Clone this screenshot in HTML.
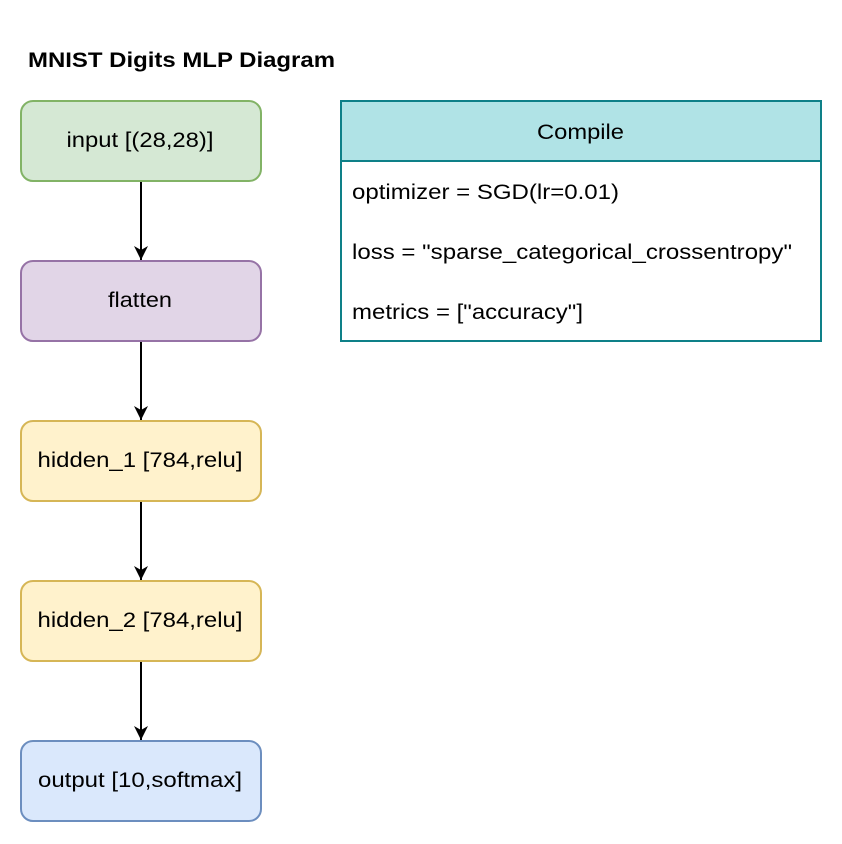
<!DOCTYPE html>
<html><head><meta charset="utf-8"><style>
html,body{margin:0;padding:0;background:#fff;}
svg{display:block;font-family:"Liberation Sans",Arial,sans-serif;}
</style></head><body>
<svg width="842" height="844" viewBox="0 0 842 844" xmlns="http://www.w3.org/2000/svg">
<defs><marker id="a" markerWidth="16" markerHeight="16" refX="14" refY="7" orient="auto" markerUnits="userSpaceOnUse">
<path d="M0,0 L14,7 L0,14 L4,7 Z" fill="#000"/></marker></defs>
<text x="28" y="67" font-size="21" font-weight="bold" textLength="307" lengthAdjust="spacingAndGlyphs">MNIST Digits MLP Diagram</text>
<g stroke-width="2" font-size="21" text-anchor="middle">
<rect x="21" y="101" width="240" height="80" rx="12" fill="#d5e8d4" stroke="#82b366"/>
<text x="140" y="147" stroke="none" textLength="147" lengthAdjust="spacingAndGlyphs">input [(28,28)]</text>
<rect x="21" y="261" width="240" height="80" rx="12" fill="#e1d5e7" stroke="#9673a6"/>
<text x="140" y="307" stroke="none" textLength="64" lengthAdjust="spacingAndGlyphs">flatten</text>
<rect x="21" y="421" width="240" height="80" rx="12" fill="#fff2cc" stroke="#d6b656"/>
<text x="140" y="467" stroke="none" textLength="205" lengthAdjust="spacingAndGlyphs">hidden_1 [784,relu]</text>
<rect x="21" y="581" width="240" height="80" rx="12" fill="#fff2cc" stroke="#d6b656"/>
<text x="140" y="627" stroke="none" textLength="205" lengthAdjust="spacingAndGlyphs">hidden_2 [784,relu]</text>
<rect x="21" y="741" width="240" height="80" rx="12" fill="#dae8fc" stroke="#6c8ebf"/>
<text x="140" y="787" stroke="none" textLength="204" lengthAdjust="spacingAndGlyphs">output [10,softmax]</text>
</g>
<g stroke="#000" stroke-width="2" marker-end="url(#a)">
<line x1="141" y1="182" x2="141" y2="260"/>
<line x1="141" y1="342" x2="141" y2="420"/>
<line x1="141" y1="502" x2="141" y2="580"/>
<line x1="141" y1="662" x2="141" y2="740"/>
</g>
<rect x="341" y="101" width="480" height="60" fill="#b0e3e6" stroke="#0e8088" stroke-width="2"/>
<rect x="341" y="161" width="480" height="180" fill="#fff" stroke="#0e8088" stroke-width="2"/>
<g font-size="21">
<text x="537" y="139" textLength="87" lengthAdjust="spacingAndGlyphs">Compile</text>
<text x="352" y="199" textLength="267" lengthAdjust="spacingAndGlyphs">optimizer = SGD(lr=0.01)</text>
<text x="352" y="259" textLength="440" lengthAdjust="spacingAndGlyphs">loss = "sparse_categorical_crossentropy"</text>
<text x="352" y="319" textLength="231" lengthAdjust="spacingAndGlyphs">metrics = ["accuracy"]</text>
</g>
</svg>
</body></html>
